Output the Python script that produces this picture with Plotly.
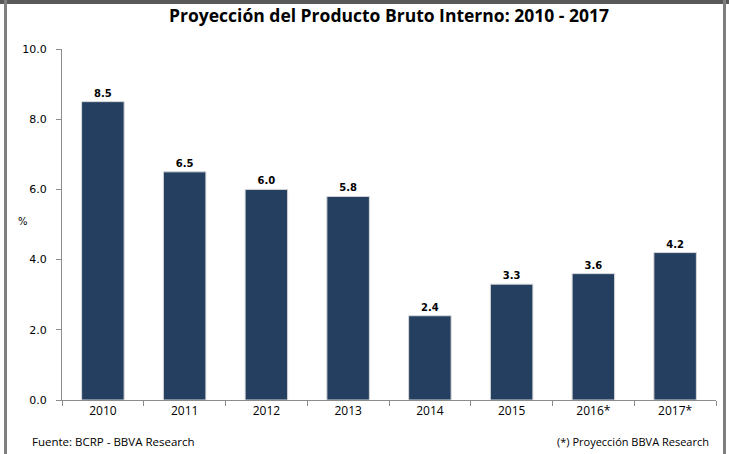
import plotly.graph_objects as go

categories = ["2010", "2011", "2012", "2013", "2014", "2015", "2016*", "2017*"]
values = [8.5, 6.5, 6.0, 5.8, 2.4, 3.3, 3.6, 4.2]
y_ticks = [0, 2, 4, 6, 8, 10]
y_tick_labels = ["0.0", "2.0", "4.0", "6.0", "8.0", "10.0"]

W, H = 729, 454
L, R, T, B = 62, 13, 49, 54
pw, ph = W - L - R, H - T - B

def px(x):
    return (x - L) / pw

def py(y):
    return (H - B - y) / ph

fig = go.Figure()
fig.add_trace(go.Bar(
    x=categories, y=values,
    marker=dict(color="#243F60", line=dict(color="#d8d8d8", width=1)),
    width=0.52,
    text=[f"<b>{v:.1f}</b>" for v in values],
    textposition="outside",
    textfont=dict(family="DejaVu Sans", size=10, color="#000000"),
    cliponaxis=False,
    hoverinfo="skip",
))

fig.update_layout(
    width=W, height=H,
    margin=dict(l=L, r=R, t=T, b=B),
    plot_bgcolor="white", paper_bgcolor="white",
    showlegend=False,
    title=dict(text="<b>Proyección del Producto Bruto Interno: 2010 - 2017</b>",
               x=0.5, xref="paper", xanchor="center", y=1 - 16 / H, yanchor="middle",
               font=dict(family="Open Sans", size=17.5, color="#000000")),
    xaxis=dict(showline=True, linecolor="#8c8c8c", linewidth=1,
               ticks="outside", tickson="boundaries", ticklen=5, tickcolor="#8c8c8c",
               tickfont=dict(family="Open Sans", size=12, color="#000000"),
               showgrid=False, range=[-0.5, 7.5]),
    yaxis=dict(showline=True, linecolor="#8c8c8c", linewidth=1,
               ticks="outside", ticklen=5, tickcolor="#8c8c8c",
               tickvals=y_ticks, ticktext=y_tick_labels, ticklabelstandoff=7,
               tickfont=dict(family="DejaVu Sans", size=11, color="#000000"),
               showgrid=False, range=[0, 10], zeroline=False),
    font=dict(family="Open Sans"),
)

fig.add_annotation(text="%", x=px(16), y=py(222), xref="paper", yref="paper",
                   showarrow=False, font=dict(family="DejaVu Sans", size=10, color="#000000"))
fig.add_annotation(text="Fuente: BCRP - BBVA Research", x=px(30), y=py(441), xref="paper", yref="paper",
                   xanchor="left", yanchor="middle", showarrow=False,
                   font=dict(family="Open Sans", size=11.5, color="#000000"))
fig.add_annotation(text="(*) Proyección BBVA Research", x=px(711), y=py(441), xref="paper", yref="paper",
                   xanchor="right", yanchor="middle", showarrow=False,
                   font=dict(family="Open Sans", size=11, color="#000000"))

# frame
fig.add_shape(type="rect", xref="paper", yref="paper", x0=px(0), x1=px(W), y0=py(4), y1=py(0),
              fillcolor="#595959", line=dict(width=0), layer="above")
fig.add_shape(type="rect", xref="paper", yref="paper", x0=px(4), x1=px(7), y0=py(H + 2), y1=py(0),
              fillcolor="#7f7f7f", line=dict(width=0), layer="above")
fig.add_shape(type="rect", xref="paper", yref="paper", x0=px(723), x1=px(726), y0=py(H + 2), y1=py(0),
              fillcolor="#7f7f7f", line=dict(width=0), layer="above")

post = "document.body.style.margin='0';document.body.style.overflow='hidden';"
fig.write_html("out.html", config={"displayModeBar": False}, post_script=post)
